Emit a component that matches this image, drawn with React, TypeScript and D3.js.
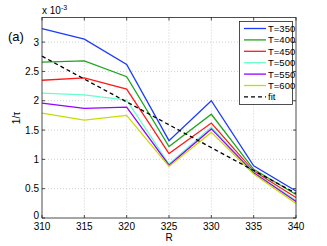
import * as d3 from 'd3';

const radii = [310, 315, 320, 325, 330, 335, 340];
const t350 = [3.23, 3.05, 2.62, 1.32, 2.0, 0.89, 0.46];
const t400 = [2.66, 2.68, 2.41, 1.22, 1.77, 0.83, 0.4];
const t450 = [2.35, 2.39, 2.2, 1.1, 1.62, 0.8, 0.35];
const t500 = [2.13, 2.1, 2.01, 0.92, 1.55, 0.78, 0.3];
const t550 = [1.96, 1.87, 1.89, 0.9, 1.52, 0.77, 0.28];
const t600 = [1.79, 1.67, 1.75, 0.88, 1.46, 0.75, 0.25];
const fitEnds = [2.76, 0.42];
const fitRadii = [310, 340];
const yTicks = [0, 0.5, 1, 1.5, 2, 2.5, 3];
const xTicks = [310, 315, 320, 325, 330, 335, 340];

const series = [
  { name: 'T=350', values: t350, color: '#1a3cff' },
  { name: 'T=400', values: t400, color: '#1ea51e' },
  { name: 'T=450', values: t450, color: '#ff1a1a' },
  { name: 'T=500', values: t500, color: '#66ffcc' },
  { name: 'T=550', values: t550, color: '#9900ff' },
  { name: 'T=600', values: t600, color: '#c8dc00' },
];

export default function App() {
  const left = 42, right = 296, top = 17.5, bottom = 218;
  const x = d3.scaleLinear().domain([310, 340]).range([left, right]);
  const y = d3.scaleLinear().domain([0, 3.42]).range([bottom, top]);
  const line = d3
    .line<number>()
    .x((_, i) => x(radii[i]))
    .y((d) => y(d));
  const fitLine = d3
    .line<number>()
    .x((_, i) => x(fitRadii[i]))
    .y((d) => y(d));
  const font = 'Liberation Sans, Arial, sans-serif';
  const legendItems = [...series.map((s) => ({ name: s.name, color: s.color, dash: false })), { name: 'fit', color: '#000', dash: true }];

  return (
    <svg width={327} height={246} style={{ position: 'absolute', left: 0, top: 0, background: '#fff' }} fontFamily={font}>
      <rect x={0} y={0} width={327} height={246} fill='#fff' />
      {yTicks.slice(1).map((t) => (
        <line key={'gy' + t} x1={left} x2={right} y1={y(t)} y2={y(t)} stroke='#bbb' strokeWidth={0.7} strokeDasharray='1,2' />
      ))}
      {xTicks.slice(1, -1).map((t) => (
        <line key={'gx' + t} x1={x(t)} x2={x(t)} y1={top} y2={bottom} stroke='#bbb' strokeWidth={0.7} strokeDasharray='1,2' />
      ))}
      {series.map((s) => (
        <path key={s.name} d={line(s.values)!} fill='none' stroke={s.color} strokeWidth={1.3} />
      ))}
      <path d={fitLine(fitEnds)!} fill='none' stroke='#000' strokeWidth={1.3} strokeDasharray='4,3' />
      <rect x={left} y={top} width={right - left} height={bottom - top} fill='none' stroke='#222' strokeWidth={0.8} />
      {yTicks.map((t) => (
        <g key={'ty' + t}>
          <line x1={left} x2={left + 3} y1={y(t)} y2={y(t)} stroke='#222' strokeWidth={0.8} />
          <line x1={right} x2={right - 3} y1={y(t)} y2={y(t)} stroke='#222' strokeWidth={0.8} />
          <text x={left - 3} y={t === 0 ? y(t) + 1 : y(t) + 3.5} fontSize={10} textAnchor='end' fill='#000'>{t}</text>
        </g>
      ))}
      {xTicks.map((t) => (
        <g key={'tx' + t}>
          <line x1={x(t)} x2={x(t)} y1={bottom} y2={bottom - 3} stroke='#222' strokeWidth={0.8} />
          <line x1={x(t)} x2={x(t)} y1={top} y2={top + 3} stroke='#222' strokeWidth={0.8} />
          <text x={x(t)} y={bottom + 11.5} fontSize={10} textAnchor='middle' fill='#000'>{t}</text>
        </g>
      ))}
      <text x={left} y={14} fontSize={10} fill='#000'>x 10<tspan dy={-4} fontSize={7}>-3</tspan></text>
      <text x={8} y={41} fontSize={13} fill='#000'>(a)</text>
      <text transform={`translate(20,118) rotate(-90)`} fontSize={10} textAnchor='middle' fill='#000'>1/τ</text>
      <text x={x(325)} y={241} fontSize={10} textAnchor='middle' fill='#000'>R</text>
      <rect x={239.5} y={21.5} width={53} height={83} fill='#fff' stroke='#222' strokeWidth={0.8} />
      {legendItems.map((d, i) => {
        const ly = 28.5 + i * 11.4;
        return (
          <g key={d.name}>
            <line x1={244} x2={266} y1={ly} y2={ly} stroke={d.color} strokeWidth={1.3} strokeDasharray={d.dash ? '4,3' : undefined} />
            <text x={268} y={ly + 3.5} fontSize={9.5} fill='#000'>{d.name}</text>
          </g>
        );
      })}
    </svg>
  );
}
